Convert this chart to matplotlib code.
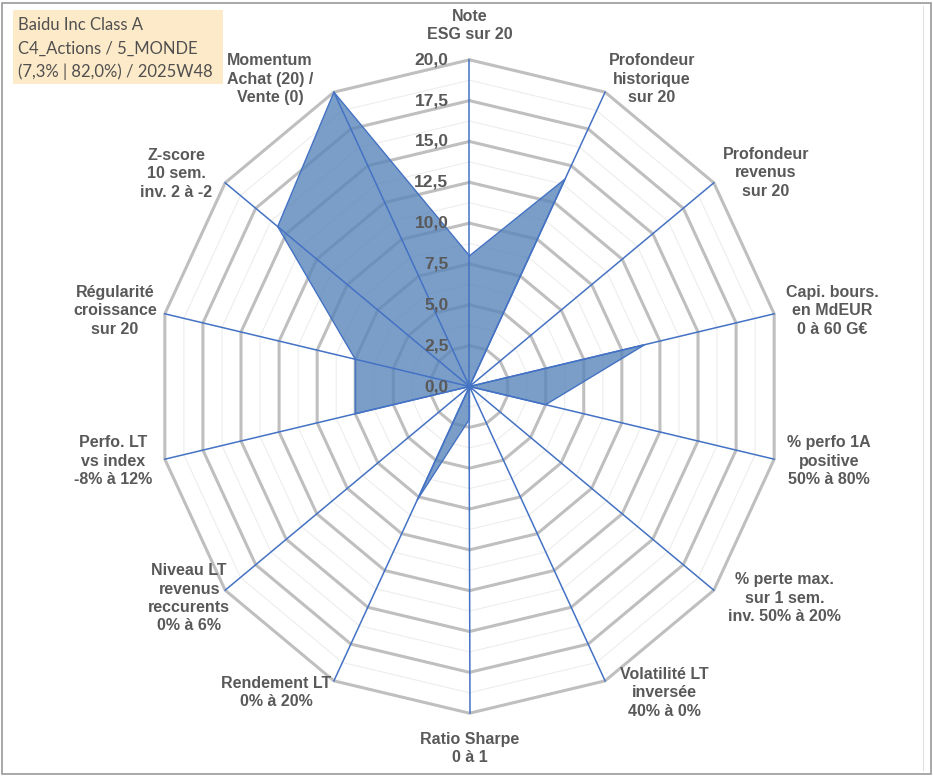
import numpy as np
import matplotlib.pyplot as plt
from matplotlib.patches import Rectangle

# %%
# data (scale 0 - 20)
criteres = [
    "Note\nESG sur 20",
    "Profondeur\nhistorique\nsur 20",
    "Profondeur\nrevenus\nsur 20",
    "Capi. bours.\nen MdEUR\n0 à 60 G€",
    "% perfo 1A\npositive\n50% à 80%",
    "% perte max.\nsur 1 sem.\ninv. 50% à 20%",
    "Volatilité LT\ninversée\n40% à 0%",
    "Ratio Sharpe\n0 à 1",
    "Rendement LT\n0% à 20%",
    "Niveau LT\nrevenus\nreccurents\n0% à 6%",
    "Perfo. LT\nvs index\n-8% à 12%",
    "Régularité\ncroissance\nsur 20",
    "Z-score\n10 sem.\ninv. 2 à -2",
    "Momentum\nAchat (20) /\nVente (0)",
]
notes = [8.0, 14.1, 0.0, 11.5, 5.0, 0.0, 0.0, 2.0, 7.7, 0.0, 7.5, 7.5, 15.7, 20.0]
graduations = [0.0, 2.5, 5.0, 7.5, 10.0, 12.5, 15.0, 17.5, 20.0]
titre = ["Baidu Inc Class A", "C4_Actions / 5_MONDE", "(7,3% | 82,0%) / 2025W48"]

# %%
W, H = 933, 776
cx, cy = 469.5, 386.5          # centre in pixels
px_x, px_y = 15.625, 16.335    # pixels per unit (slightly elliptic like the source)

fig = plt.figure(figsize=(W / 100, H / 100), dpi=100)
ax = fig.add_axes([0, 0, 1, 1])
ax.set_xlim(-cx / px_x, (W - cx) / px_x)
ax.set_ylim(-(H - cy) / px_y, cy / px_y)
ax.axis('off')

n = len(criteres)
ang = np.arange(n) * 2 * np.pi / n
sx, sy = np.sin(ang), np.cos(ang)

# grid rings
for r in np.arange(1.25, 20.01, 1.25):
    xs = np.append(r * sx, r * sx[0])
    ys = np.append(r * sy, r * sy[0])
    if abs(r / 2.5 - round(r / 2.5)) < 1e-6:
        ax.plot(xs, ys, color='#bfbfbf', lw=2.2, zorder=1, solid_joinstyle='miter')
    else:
        ax.plot(xs, ys, color='#ededed', lw=0.8, zorder=1)

# data polygon
v = np.array(notes)
ax.fill(v * sx, v * sy, facecolor='#5a86bb', alpha=0.8, edgecolor='none', zorder=2)
ax.plot(np.append(v * sx, v[0] * sx[0]), np.append(v * sy, v[0] * sy[0]),
        color='#4472c4', lw=1.0, zorder=3)

# spokes
for a, b in zip(sx, sy):
    ax.plot([0, 20 * a], [0, 20 * b], color='#4472c4', lw=1.1, zorder=3)
ax.plot(0, 0, 'o', color='#4472c4', ms=3, zorder=3)

# radial tick labels
for g in graduations:
    ax.annotate(f"{g:.1f}".replace('.', ','), xy=(0, g), xytext=(-21, 0),
                textcoords='offset pixels', ha='right', va='center',
                fontsize=12.5, fontweight='bold', color='#595959',
                family='Liberation Sans', zorder=4)

# category labels (offset from spoke tip, in pixels)
decal = [(0, 34), (47, 13), (52, 10), (58, 3), (55, -2), (71, -8), (59, -12),
         (0, -35), (-58, -12), (-36, -8), (-52, -2), (-50, 3), (-49, 9), (-64, 13)]
for lab, a, b, (dx, dy) in zip(criteres, sx, sy, decal):
    ax.annotate(lab, xy=(20 * a, 20 * b), xytext=(dx, dy), textcoords='offset pixels',
                ha='center', va='center', multialignment='center',
                fontsize=11.5, fontweight='bold', color='#595959',
                family='Liberation Sans', linespacing=1.27)

# title box
fig.patches.append(Rectangle((13 / W, 1 - 84 / H), 210 / W, 74 / H,
                             transform=fig.transFigure, facecolor='#fdeac8',
                             edgecolor='none', zorder=0))
for i, t in enumerate(titre):
    fig.text(18 / W, 1 - (25 + 23.5 * i) / H, t, ha='left', va='center',
             fontsize=12, color='#505050', family='Lato')

# frame
fig.patches.append(Rectangle((1.5 / W, 2.5 / H), (W - 4) / W, (H - 5) / H,
                             transform=fig.transFigure, facecolor='none',
                             edgecolor='#9a9a9a', lw=1.2))
fig.add_artist(plt.Line2D([923 / W, 923 / W], [6 / H, 1 - 6 / H],
                          transform=fig.transFigure, color='#e0e0e0', lw=0.8))

fig.savefig('out.png', dpi=100)
